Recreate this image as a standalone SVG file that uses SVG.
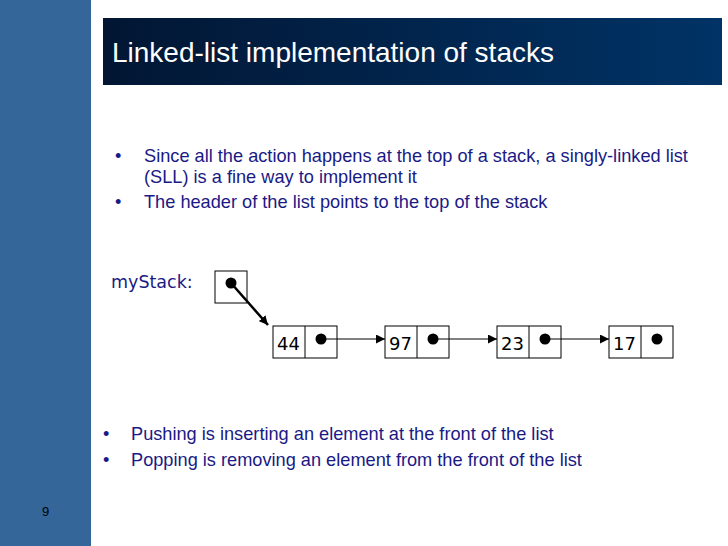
<svg xmlns="http://www.w3.org/2000/svg" width="728" height="546" viewBox="0 0 728 546">
<defs>
<linearGradient id="tg" x1="0" x2="1" y1="0" y2="0"><stop offset="0" stop-color="#021633"/><stop offset="1" stop-color="#003366"/></linearGradient>
<marker id="ah" viewBox="0 0 10 10" refX="10" refY="5" markerWidth="10" markerHeight="9" orient="auto" markerUnits="userSpaceOnUse"><path d="M0,0 L10,5 L0,10 z" fill="#000"/></marker>
<marker id="ah2" viewBox="0 0 10 10" refX="10" refY="5" markerWidth="9" markerHeight="9" orient="auto" markerUnits="userSpaceOnUse"><path d="M0,0 L10,5 L0,10 z" fill="#000"/></marker>
</defs>
<style>
.box{fill:#fff;stroke:#000;stroke-width:1}
.v{font-family:"DejaVu Sans",Verdana,sans-serif;font-size:18px;fill:#000}
.b{font-family:"Liberation Sans",Arial,sans-serif;font-size:18.2px;fill:#1a1a85}
.dot{fill:#000}
</style>
<rect x="0" y="0" width="728" height="546" fill="#fff"/>
<rect x="0" y="0" width="91" height="546" fill="#34669a"/>
<rect x="103" y="18" width="619" height="67" fill="url(#tg)"/>
<text x="112" y="62" font-family="Liberation Sans,Arial,sans-serif" font-size="28" fill="#fff">Linked-list implementation of stacks</text>
<g class="b">
<text x="115" y="162">•</text><text x="144" y="162">Since all the action happens at the top of a stack, a singly-linked list</text>
<text x="144" y="183">(SLL) is a fine way to implement it</text>
<text x="115" y="208">•</text><text x="144" y="208">The header of the list points to the top of the stack</text>
<text x="103" y="440">•</text><text x="131" y="440">Pushing is inserting an element at the front of the list</text>
<text x="103" y="466">•</text><text x="131" y="466">Popping is removing an element from the front of the list</text>
</g>
<text x="111" y="288" font-family="DejaVu Sans,Verdana,sans-serif" font-size="17.5" fill="#1a1a85">myStack:</text>
<text x="42" y="516" font-family="Liberation Sans,Arial,sans-serif" font-size="13" fill="#000">9</text>
<g id="head"><rect class="box" x="215" y="271" width="32" height="32"/><circle class="dot" cx="231" cy="283" r="5.5"/></g>
<g id="n44"><rect class="box" x="273" y="326" width="64" height="32"/><line x1="305" y1="326" x2="305" y2="358" stroke="#000"/><text class="v" x="277" y="350">44</text><circle class="dot" cx="321" cy="339" r="5.5"/></g>
<g id="n97"><rect class="box" x="385" y="326" width="64" height="32"/><line x1="417" y1="326" x2="417" y2="358" stroke="#000"/><text class="v" x="389" y="350">97</text><circle class="dot" cx="433" cy="339" r="5.5"/></g>
<g id="n23"><rect class="box" x="497" y="326" width="64" height="32"/><line x1="529" y1="326" x2="529" y2="358" stroke="#000"/><text class="v" x="501" y="350">23</text><circle class="dot" cx="545" cy="339" r="5.5"/></g>
<g id="n17"><rect class="box" x="609" y="326" width="64" height="32"/><line x1="641" y1="326" x2="641" y2="358" stroke="#000"/><text class="v" x="613" y="350">17</text><circle class="dot" cx="657" cy="339" r="5.5"/></g>
<g id="connectors" stroke="#000" fill="none">
<line x1="231" y1="283" x2="268" y2="325" stroke-width="2.5" marker-end="url(#ah2)"/>
<line x1="321" y1="339" x2="385" y2="339" marker-end="url(#ah)"/>
<line x1="433" y1="339" x2="497" y2="339" marker-end="url(#ah)"/>
<line x1="545" y1="339" x2="609" y2="339" marker-end="url(#ah)"/>
</g>
</svg>
